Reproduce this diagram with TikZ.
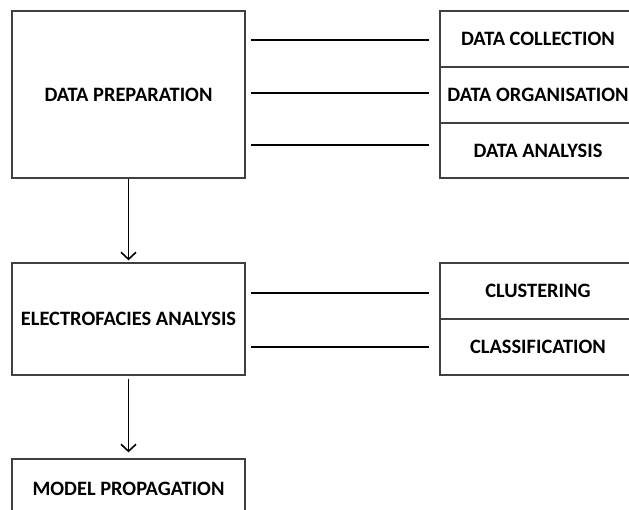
\documentclass[tikz,border=0pt]{standalone}
\usepackage{fontspec}
\setmainfont{Carlito}
\usetikzlibrary{arrows.meta}
\begin{document}
\begin{tikzpicture}[x=1bp,y=-1bp,
  box/.style={draw=black!75,line width=1.3bp,fill=white,inner sep=0pt,font=\fontsize{20.5}{22}\selectfont\bfseries},
  conn/.style={line width=2bp,black},
  flow/.style={line width=1.8bp,black,-{Straight Barb[length=7bp,width=15bp,line width=1.6bp]}}]
\useasboundingbox (0,0) rectangle (629,510);
\clip (0,0) rectangle (629,510);
\fill[white] (0,0) rectangle (629,510);
% left boxes
\node[box,minimum width=233bp,minimum height=167bp] (dp) at (128.5,94.5) {DATA PREPARATION};
\node[box,minimum width=233bp,minimum height=112bp] (ea) at (128.5,319) {ELECTROFACIES ANALYSIS};
\node[box,minimum width=233bp,minimum height=60bp] (mp) at (128.5,489) {MODEL PROPAGATION};
% right boxes
\node[box,minimum width=196bp,minimum height=56bp] (dc) at (538,39) {DATA COLLECTION};
\node[box,minimum width=196bp,minimum height=56bp] (do) at (538,95) {DATA ORGANISATION};
\node[box,minimum width=196bp,minimum height=55bp] (da) at (538,150.5) {DATA ANALYSIS};
\node[box,minimum width=196bp,minimum height=56bp] (cl) at (538,291) {CLUSTERING};
\node[box,minimum width=196bp,minimum height=56bp] (cf) at (538,347) {CLASSIFICATION};
% horizontal connectors
\coordinate (l1) at (251,40);
\coordinate (l2) at (251,93);
\coordinate (l3) at (251,145);
\coordinate (l4) at (251,293);
\coordinate (l5) at (251,347);
\draw[conn] (l1) -- ([xshift=-10bp]l1 -| dc.west);
\draw[conn] (l2) -- ([xshift=-10bp]l2 -| do.west);
\draw[conn] (l3) -- ([xshift=-10bp]l3 -| da.west);
\draw[conn] (l4) -- ([xshift=-10bp]l4 -| cl.west);
\draw[conn] (l5) -- ([xshift=-10bp]l5 -| cf.west);
% flow arrows
\draw[flow,shorten >=2bp] (dp.south) -- (ea.north);
\draw[flow,shorten <=3bp,shorten >=6bp] (ea.south) -- (mp.north);
\end{tikzpicture}
\end{document}
